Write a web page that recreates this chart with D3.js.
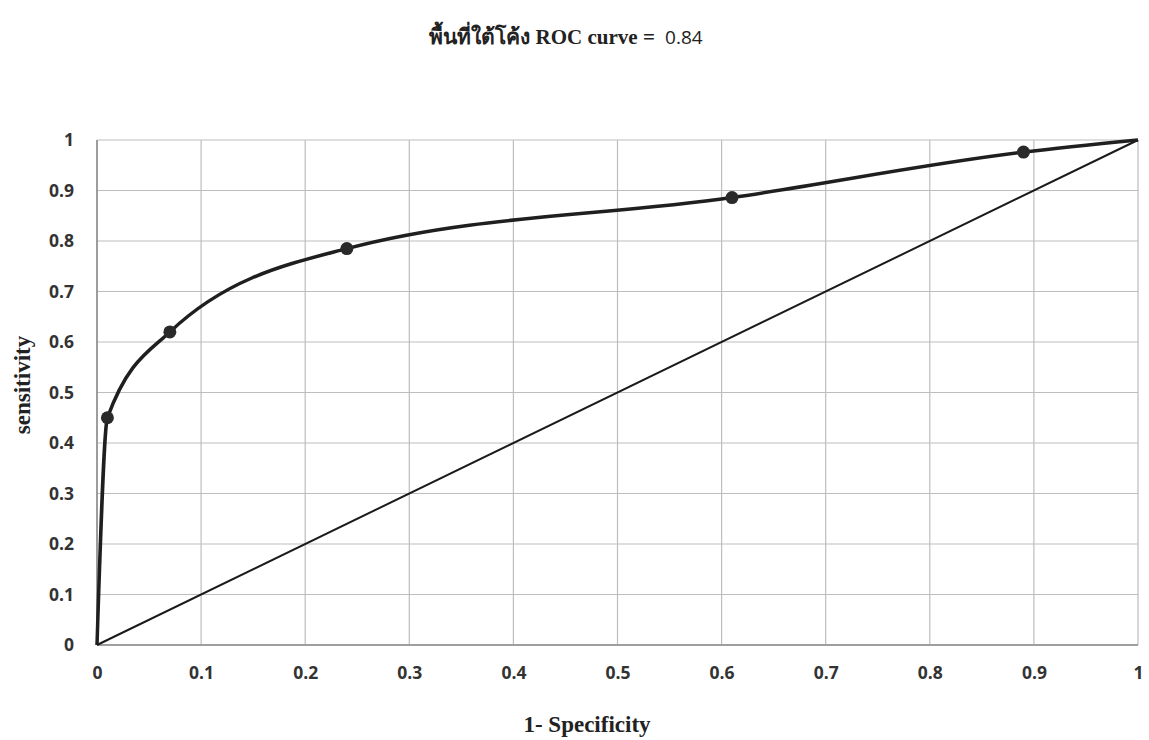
<!DOCTYPE html>
<html>
<head>
<meta charset="utf-8">
<script src="https://cdn.jsdelivr.net/npm/d3@7"></script>
<style>
  body { margin: 0; background: #fff; }
  .tick text { font-family: "Open Sans", "DejaVu Sans", sans-serif; font-weight: 700; font-size: 17.5px; fill: #333; }
</style>
</head>
<body>
<div id="chart"></div>
<script>
// ROC points (1 - specificity, sensitivity)
var fpr = [0, 0.01, 0.07, 0.24, 0.61, 0.89, 1];
var tpr = [0, 0.45, 0.62, 0.785, 0.886, 0.976, 1];
var xTicks = [0, 0.1, 0.2, 0.3, 0.4, 0.5, 0.6, 0.7, 0.8, 0.9, 1];
var yTicks = [0, 0.1, 0.2, 0.3, 0.4, 0.5, 0.6, 0.7, 0.8, 0.9, 1];
var titleText = "พื้นที่ใต้โค้ง ROC curve = ";
var aucText = " 0.84";

var W = 1149, H = 740;
var margin = {top: 140, right: 11, bottom: 95, left: 97},
    width = W - margin.left - margin.right,
    height = H - margin.top - margin.bottom;

var svg = d3.select("#chart").append("svg")
    .attr("width", W)
    .attr("height", H);

var g = svg.append("g")
    .attr("transform", "translate(" + margin.left + "," + margin.top + ")");

var x = d3.scaleLinear().domain([0, 1]).range([0, width]);
var y = d3.scaleLinear().domain([0, 1]).range([height, 0]);

// gridlines
g.append("g").selectAll("line.v").data(xTicks).enter().append("line")
    .attr("x1", d => x(d)).attr("x2", d => x(d))
    .attr("y1", 0).attr("y2", height)
    .attr("stroke", "#bdbdbd").attr("stroke-width", 1.2);
g.append("g").selectAll("line.h").data(yTicks).enter().append("line")
    .attr("x1", 0).attr("x2", width)
    .attr("y1", d => y(d)).attr("y2", d => y(d))
    .attr("stroke", "#bdbdbd").attr("stroke-width", 1.2);

// axes (labels only)
var xAxis = d3.axisBottom(x).tickValues(xTicks).tickSize(0).tickPadding(22).tickFormat(d3.format("~g"));
var yAxis = d3.axisLeft(y).tickValues(yTicks).tickSize(0).tickPadding(23).tickFormat(d3.format("~g"));

g.append("g").attr("transform", "translate(0," + height + ")").call(xAxis)
    .call(s => s.select(".domain").remove());
g.append("g").call(yAxis)
    .call(s => s.select(".domain").remove());

// axis lines
g.append("line").attr("x1", 0).attr("x2", 0).attr("y1", 0).attr("y2", height)
    .attr("stroke", "#8a8a8a").attr("stroke-width", 1.5);
g.append("line").attr("x1", 0).attr("x2", width).attr("y1", height).attr("y2", height)
    .attr("stroke", "#8a8a8a").attr("stroke-width", 1.5);

// diagonal reference
g.append("line")
    .attr("x1", x(0)).attr("y1", y(0)).attr("x2", x(1)).attr("y2", y(1))
    .attr("stroke", "#1a1a1a").attr("stroke-width", 2);

var pts = fpr.map((d, i) => [d, tpr[i]]);

var line = d3.line()
    .x(d => x(d[0]))
    .y(d => y(d[1]))
    .curve(d3.curveMonotoneX);

g.append("path").datum(pts)
    .attr("d", line)
    .attr("fill", "none")
    .attr("stroke", "#1f1f1f")
    .attr("stroke-width", 3.5);

g.selectAll("circle").data(pts.slice(1, -1)).enter().append("circle")
    .attr("cx", d => x(d[0])).attr("cy", d => y(d[1]))
    .attr("r", 6.5)
    .attr("fill", "#2a2a2a");

// titles
var t = svg.append("text")
    .attr("x", 566).attr("y", 44)
    .attr("text-anchor", "middle")
    .style("font-family", "'Liberation Serif', 'Times New Roman', serif")
    .style("font-weight", "bold")
    .style("font-size", "21px")
    .style("fill", "#222")
    .style("white-space", "pre");
t.append("tspan").text(titleText);
t.append("tspan")
    .style("font-family", "'Open Sans', 'DejaVu Sans', sans-serif")
    .style("font-weight", "normal")
    .style("font-size", "19px")
    .text(aucText);

svg.append("text")
    .attr("x", 587).attr("y", 732)
    .attr("text-anchor", "middle")
    .style("font-family", "'Liberation Serif', 'Times New Roman', serif")
    .style("font-weight", "bold")
    .style("font-size", "23px")
    .style("fill", "#222")
    .text("1- Specificity");

svg.append("text")
    .attr("transform", "translate(30,385) rotate(-90)")
    .attr("text-anchor", "middle")
    .style("font-family", "'Liberation Serif', 'Times New Roman', serif")
    .style("font-weight", "bold")
    .style("font-size", "23px")
    .style("fill", "#222")
    .text("sensitivity");
</script>
</body>
</html>
